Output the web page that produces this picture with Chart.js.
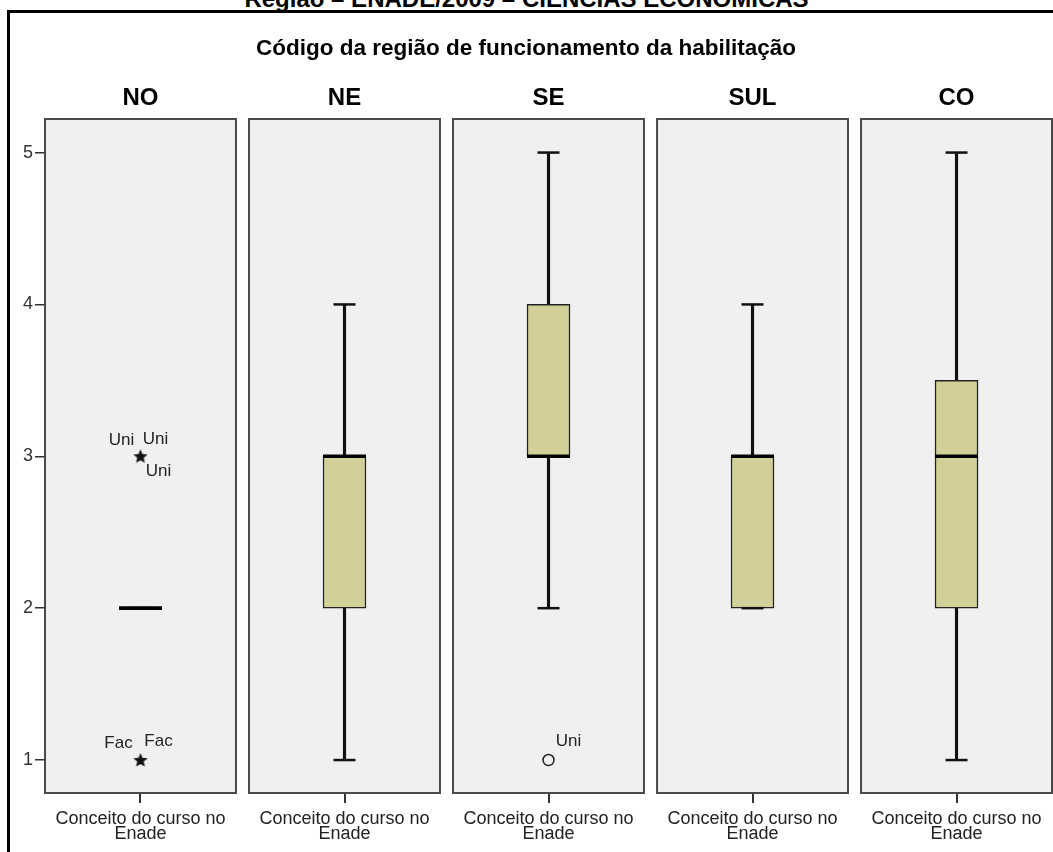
<!DOCTYPE html>
<html>
<head>
<meta charset="utf-8">
<script src="https://cdn.jsdelivr.net/npm/chart.js@4.4.1/dist/chart.umd.min.js"></script>
<style>
body{margin:0;background:#fff;}
#wrap{position:relative;width:1053px;height:852px;overflow:hidden;}
#sup{position:absolute;left:0;top:-13px;width:1053px;text-align:center;font:bold 24px 'Liberation Sans',Arial,sans-serif;line-height:24px;color:#000;}
#frame{position:absolute;left:7px;top:10px;width:1100px;height:900px;border-top:3px solid #000;border-left:3px solid #000;}
#c{position:absolute;left:0;top:0;}
</style>
</head>
<body>
<div id="wrap">
<div id="sup">Região – ENADE/2009 – CIÊNCIAS ECONÔMICAS</div>
<div id="frame"></div>
<canvas id="c" width="1053" height="852"></canvas>
</div>
<script>
// data
const regions = ['NO', 'NE', 'SE', 'SUL', 'CO'];
const whiskerLow = [2, 1, 2, 2, 1];
const q1 = [2, 2, 3, 2, 2];
const median = [2, 3, 3, 3, 3];
const q3 = [2, 3, 4, 3, 3.5];
const whiskerHigh = [2, 4, 5, 4, 5];

const outlierRegion = [0, 0, 2];
const outlierValue = [3, 1, 1];
const outlierKind = ['extreme', 'extreme', 'mild'];
const outlierCases = [['Uni', 'Uni', 'Uni'], ['Fac', 'Fac'], ['Uni']];

const yTicks = [1, 2, 3, 4, 5];
const xAxisLabel = ['Conceito do curso no', 'Enade'];
const chartTitle = 'Código da região de funcionamento da habilitação';

// layout / style
const FONT = "'Liberation Sans', Arial, sans-serif";
const PANEL_HALF = 0.468;
const LABEL_OFFSETS = [
    [[-19, -16], [15, -17], [18, 15]],
    [[-22, -17], [18, -19]],
    [[20, -19]]
];

function makeStar(size){
    var c = document.createElement('canvas');
    c.width = size;
    c.height = size;
    var ctx = c.getContext('2d');
    var R = size / 2 - 0.5, r = R * 0.45;
    ctx.beginPath();
    for(let k = 0; k < 10; k++){
        let a = -Math.PI / 2 + k * Math.PI / 5;
        let rad = k % 2 ? r : R;
        ctx.lineTo(size / 2 + rad * Math.cos(a), size / 2 + 0.5 + rad * Math.sin(a));
    }
    ctx.closePath();
    ctx.fillStyle = '#111';
    ctx.fill();
    return c;
}
const star = makeStar(16);

const panelPlugin = {
    id: 'panels',
    beforeDatasetsDraw(chart){
        const ctx = chart.ctx;
        const x = chart.scales.x;
        const {top, bottom} = chart.chartArea;
        ctx.save();
        regions.forEach((r, i) => {
            let l = x.getPixelForValue(i - PANEL_HALF);
            let rr = x.getPixelForValue(i + PANEL_HALF);
            ctx.fillStyle = '#f0f0f0';
            ctx.fillRect(l, top, rr - l, bottom - top);
            ctx.strokeStyle = '#4a4a4a';
            ctx.lineWidth = 2;
            ctx.strokeRect(l, top, rr - l, bottom - top);
        });
        ctx.restore();
    }
};

const labelPlugin = {
    id: 'outlierLabels',
    afterDatasetsDraw(chart){
        const ctx = chart.ctx;
        const meta = chart.getDatasetMeta(4);
        ctx.save();
        ctx.font = '17px ' + FONT;
        ctx.fillStyle = '#222';
        ctx.textAlign = 'center';
        ctx.textBaseline = 'middle';
        meta.data.forEach((pt, k) => {
            outlierCases[k].forEach((txt, j) => {
                let off = LABEL_OFFSETS[k][j];
                ctx.fillText(txt, pt.x + off[0], pt.y + off[1]);
            });
        });
        ctx.restore();
    }
};

const xMin = -0.4681, xMax = 4.468;

function fixHeight(h){
    return (scale) => {
        scale.height = h;
        scale.paddingLeft = 0;
        scale.paddingRight = 0;
    };
}

new Chart(document.getElementById('c'), {
    type: 'bar',
    data: {
        datasets: [
            {
                label: 'whiskers',
                data: regions.map((r, i) => ({x: i, y: [whiskerLow[i], whiskerHigh[i]]})),
                backgroundColor: '#111',
                barThickness: 2.5,
                grouped: false,
                order: 4
            },
            {
                label: 'box',
                data: regions.map((r, i) => ({x: i, y: [q1[i], q3[i]]})),
                backgroundColor: '#d3cf98',
                borderColor: '#222',
                borderWidth: 1.5,
                borderSkipped: false,
                barThickness: 43,
                grouped: false,
                order: 3
            },
            {
                type: 'scatter',
                label: 'caps',
                data: regions.flatMap((r, i) => [{x: i, y: whiskerLow[i]}, {x: i, y: whiskerHigh[i]}]),
                pointStyle: 'line',
                pointRadius: 11,
                pointBorderWidth: 2.5,
                pointBorderColor: '#111',
                order: 2
            },
            {
                type: 'scatter',
                label: 'median',
                data: regions.map((r, i) => ({x: i, y: median[i]})),
                pointStyle: 'line',
                pointRadius: 21.5,
                pointBorderWidth: 3.6,
                pointBorderColor: '#000',
                order: 1
            },
            {
                type: 'scatter',
                label: 'outliers',
                data: outlierRegion.map((g, k) => ({x: g, y: outlierValue[k]})),
                pointStyle: outlierKind.map(k => k === 'extreme' ? star : 'circle'),
                pointRadius: 5.5,
                pointBorderWidth: 1.5,
                pointBorderColor: '#222',
                pointBackgroundColor: 'rgba(0,0,0,0)',
                order: 0
            }
        ]
    },
    options: {
        responsive: false,
        animation: false,
        events: [],
        layout: {autoPadding: false, padding: {top: 0, left: 0, right: 1, bottom: 0}},
        plugins: {
            legend: {display: false},
            tooltip: {enabled: false},
            title: {
                display: true,
                text: chartTitle,
                color: '#000',
                font: {family: FONT, size: 22.5, weight: 'bold', lineHeight: 1.2},
                padding: {top: 35.5, bottom: 21.6}
            }
        },
        scales: {
            x: {
                type: 'linear',
                position: 'bottom',
                offset: false,
                min: xMin,
                max: xMax,
                afterBuildTicks: (scale) => { scale.ticks = regions.map((r, i) => ({value: i})); },
                afterFit: fixHeight(59),
                grid: {offset: false, drawOnChartArea: false, drawTicks: true, tickLength: 10, color: '#333', lineWidth: 2},
                border: {display: false},
                ticks: {
                    autoSkip: false,
                    maxRotation: 0,
                    minRotation: 0,
                    padding: 8.3,
                    color: '#222',
                    font: {family: FONT, size: 18, lineHeight: '15.3px'},
                    callback: () => xAxisLabel
                }
            },
            x2: {
                type: 'linear',
                axis: 'x',
                position: 'top',
                offset: false,
                min: xMin,
                max: xMax,
                afterBuildTicks: (scale) => { scale.ticks = regions.map((r, i) => ({value: i})); },
                afterFit: fixHeight(34.9),
                grid: {display: false, drawTicks: false, tickLength: 0},
                border: {display: false},
                ticks: {
                    autoSkip: false,
                    maxRotation: 0,
                    minRotation: 0,
                    padding: 6.1,
                    color: '#000',
                    font: {family: FONT, size: 24, weight: 'bold', lineHeight: 1.2},
                    callback: (v, i) => regions[i]
                }
            },
            y: {
                type: 'linear',
                min: 0.783,
                max: 5.221,
                afterBuildTicks: (scale) => { scale.ticks = yTicks.map(v => ({value: v})); },
                afterFit: (scale) => { scale.width = 45; },
                grid: {drawOnChartArea: false, drawTicks: true, tickLength: 10, color: '#333', lineWidth: 1.5},
                border: {display: false},
                ticks: {
                    padding: 2,
                    color: '#333',
                    font: {family: FONT, size: 18}
                }
            }
        }
    },
    plugins: [panelPlugin, labelPlugin]
});
</script>
</body>
</html>
